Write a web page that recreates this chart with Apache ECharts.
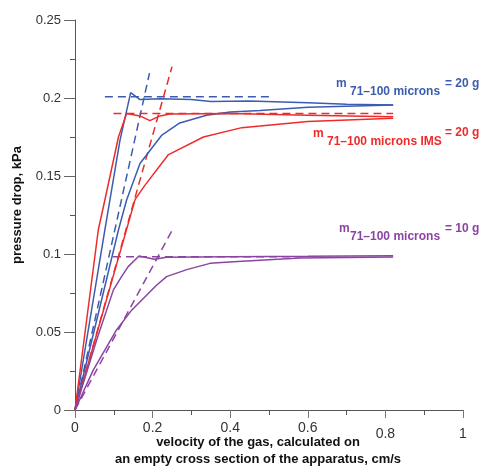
<!DOCTYPE html>
<html><head><meta charset="utf-8">
<script src="https://cdn.jsdelivr.net/npm/echarts@6/dist/echarts.min.js"></script>
<style>html,body{margin:0;padding:0;background:#fff}#c{width:485px;height:473px}</style>
</head><body><div id="c"></div>
<script>
// velocity (cm/s) and pressure drop (kPa)
const blueUpV = [0, 0.077, 0.116, 0.1435, 0.1675, 0.22, 0.3, 0.35, 0.45, 0.6, 0.7, 0.82];
const blueUpP = [0, 0.1154, 0.173, 0.2034, 0.199, 0.1995, 0.199, 0.1978, 0.198, 0.197, 0.196, 0.1955];
const blueLowV = [0, 0.112, 0.133, 0.1675, 0.223, 0.27, 0.339, 0.4, 0.477, 0.6, 0.82];
const blueLowP = [0, 0.1154, 0.1346, 0.158, 0.176, 0.184, 0.189, 0.191, 0.192, 0.194, 0.1955];
const redUpV = [0, 0.06, 0.077, 0.112, 0.133, 0.1675, 0.193, 0.219, 0.245, 0.4, 0.6, 0.82];
const redUpP = [0, 0.1154, 0.1346, 0.175, 0.19, 0.1885, 0.1855, 0.1885, 0.1897, 0.19, 0.189, 0.188];
const redLowV = [0, 0.155, 0.18, 0.24, 0.331, 0.43, 0.477, 0.6, 0.82];
const redLowP = [0, 0.135, 0.144, 0.1635, 0.175, 0.181, 0.182, 0.185, 0.187];
const purpleUpV = [0, 0.056, 0.099, 0.12, 0.137, 0.165, 0.205, 0.236, 0.4, 0.6, 0.82];
const purpleUpP = [0, 0.045, 0.077, 0.0855, 0.0919, 0.0987, 0.0966, 0.0979, 0.0983, 0.0985, 0.0988];
const purpleLowV = [0, 0.047, 0.107, 0.146, 0.21, 0.236, 0.288, 0.348, 0.408, 0.58, 0.82];
const purpleLowP = [0, 0.0256, 0.0513, 0.064, 0.080, 0.0855, 0.090, 0.094, 0.095, 0.0975, 0.098];
// dashed construction lines
const blueTanV = [0, 0.192], blueTanP = [0, 0.216];
const blueLevV = [0.077, 0.5], blueLevP = [0.2008, 0.2008];
const redTanV = [0, 0.25], redTanP = [0, 0.22];
const redLevV = [0.099, 0.82], redLevP = [0.19, 0.19];
const purpleTanV = [0, 0.25], purpleTanP = [0, 0.115];
const purpleLevV = [0.098, 0.6], purpleLevP = [0.0983, 0.0983];

const xTicks = ['0', '0.2', '0.4', '0.6', '0.8', '1'];
const yTicks = ['0', '0.05', '0.1', '0.15', '0.2', '0.25'];

const BLUE = '#3b5cb0', RED = '#ee2b2b', PURPLE = '#8a45a3';
const zip = (a, b) => a.map((v, i) => [v, b[i]]);
function solid(v, p, c) {
  return {type: 'line', data: zip(v, p), showSymbol: false, symbol: 'none', silent: true,
    lineStyle: {color: c, width: 1.5}, itemStyle: {color: c}};
}
function dashed(v, p, c) {
  return {type: 'line', data: zip(v, p), showSymbol: false, symbol: 'none', silent: true,
    lineStyle: {color: c, width: 1.5, type: [8, 5]}, itemStyle: {color: c}};
}
const chart = echarts.init(document.getElementById('c'), null, {renderer: 'canvas'});
const lab = (x, y, text, size, fill) => ({type: 'text', x: x, y: y, silent: true,
  style: {text: text, font: 'bold ' + size + 'px "Liberation Sans", Arial, sans-serif', fill: fill, verticalAlign: 'middle', align: 'left'}});
chart.setOption({
  animation: false,
  backgroundColor: '#fff',
  grid: {left: 75, right: 22, top: 20, bottom: 63, containLabel: false},
  xAxis: {
    type: 'value', min: 0, max: 1, interval: 0.2,
    axisLine: {lineStyle: {color: '#555', width: 1}},
    axisTick: {length: 8, lineStyle: {color: '#777'}},
    minorTick: {show: true, splitNumber: 2, length: 5, lineStyle: {color: '#555'}},
    splitLine: {show: false},
    axisLabel: {
      color: '#333', fontSize: 14, fontFamily: 'Liberation Sans, Arial, sans-serif', margin: 11,
      formatter: function (v) {
        const i = Math.round(v / 0.2);
        const t = xTicks[i];
        return i >= 4 ? '{lo|' + t + '}' : '{n|' + t + '}';
      },
      rich: {lo: {fontSize: 14, color: '#333', padding: [6, 0, 0, 0]}, n: {fontSize: 14, color: '#333'}}
    }
  },
  yAxis: {
    type: 'value', min: 0, max: 0.25, interval: 0.05,
    axisLine: {show: true, lineStyle: {color: '#555', width: 1}},
    axisTick: {show: true, length: 11, lineStyle: {color: '#666'}},
    minorTick: {show: true, splitNumber: 2, length: 5, lineStyle: {color: '#555'}},
    splitLine: {show: false},
    axisLabel: {
      color: '#333', fontSize: 13, fontFamily: 'Liberation Sans, Arial, sans-serif', margin: 14,
      formatter: function (v) { return yTicks[Math.round(v / 0.05)]; }
    }
  },
  graphic: [
    {type: 'text', x: 17, y: 205, rotation: Math.PI / 2, silent: true,
      style: {text: 'pressure drop, kPa', font: 'bold 13px "Liberation Sans", Arial, sans-serif', fill: '#111', align: 'center', verticalAlign: 'middle'}},
    {type: 'text', x: 258, y: 442, silent: true,
      style: {text: 'velocity of the gas, calculated on', font: 'bold 13px "Liberation Sans", Arial, sans-serif', fill: '#111', align: 'center', verticalAlign: 'middle'}},
    {type: 'text', x: 258, y: 459, silent: true,
      style: {text: 'an empty cross section of the apparatus, cm/s', font: 'bold 13px "Liberation Sans", Arial, sans-serif', fill: '#111', align: 'center', verticalAlign: 'middle'}},
    lab(336, 84, 'm', 12, BLUE), lab(350, 92, '71\u2013100 microns', 12, BLUE), lab(445, 84, '= 20 g', 12, BLUE),
    lab(313, 134, 'm', 12, RED), lab(327, 142, '71\u2013100 microns IMS', 12, RED), lab(445, 133, '= 20 g', 12, RED),
    lab(339, 229, 'm', 12, PURPLE), lab(350, 237, '71\u2013100 microns', 12, PURPLE), lab(445, 229, '= 10 g', 12, PURPLE)
  ],
  series: [
    dashed(blueTanV, blueTanP, BLUE), dashed(blueLevV, blueLevP, BLUE),
    dashed(redTanV, redTanP, RED), dashed(redLevV, redLevP, RED),
    dashed(purpleTanV, purpleTanP, PURPLE), dashed(purpleLevV, purpleLevP, PURPLE),
    solid(blueUpV, blueUpP, BLUE), solid(blueLowV, blueLowP, BLUE),
    solid(redUpV, redUpP, RED), solid(redLowV, redLowP, RED),
    solid(purpleUpV, purpleUpP, PURPLE), solid(purpleLowV, purpleLowP, PURPLE)
  ]
});
</script></body></html>
